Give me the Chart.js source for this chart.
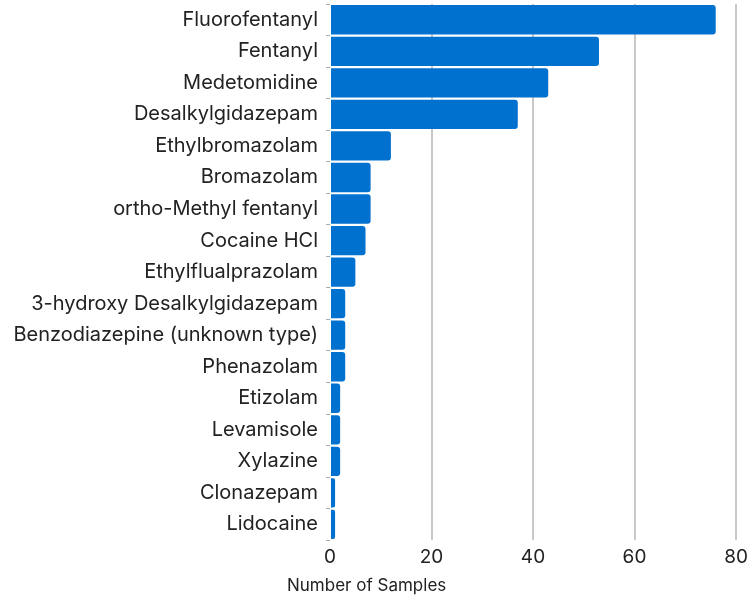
<!DOCTYPE html>
<html>
<head>
<meta charset="utf-8">
<script src="https://cdn.jsdelivr.net/npm/chart.js@4"></script>
<style>
  html, body { margin: 0; padding: 0; background: #fff; }
  #wrap { width: 751px; height: 600px; }
</style>
</head>
<body>
<div id="wrap"><canvas id="chart"></canvas></div>
<script>
const substances = [
  "Fluorofentanyl", "Fentanyl", "Medetomidine", "Desalkylgidazepam",
  "Ethylbromazolam", "Bromazolam", "ortho-Methyl fentanyl", "Cocaine HCl",
  "Ethylflualprazolam", "3-hydroxy Desalkylgidazepam",
  "Benzodiazepine (unknown type)", "Phenazolam", "Etizolam", "Levamisole",
  "Xylazine", "Clonazepam", "Lidocaine"
];
const sampleCounts = [76, 53, 43, 37, 12, 8, 8, 7, 5, 3, 3, 3, 2, 2, 2, 1, 1];
const xTicks = [0, 20, 40, 60, 80];
const xAxisTitle = "Number of Samples";

const fontFamily = "Inter, 'DejaVu Sans', sans-serif";

// axis title sits left of the plot area, so draw it by hand
const axisTitlePlugin = {
  id: "axisTitle",
  afterDraw(chart) {
    const ctx = chart.ctx;
    ctx.save();
    ctx.font = "17px " + fontFamily;
    ctx.fillStyle = "#222";
    ctx.textAlign = "left";
    ctx.textBaseline = "middle";
    ctx.fillText(xAxisTitle, chart.chartArea.left - 43, 586);
    ctx.restore();
  }
};

new Chart(document.getElementById("chart"), {
  type: "bar",
  data: {
    labels: substances,
    datasets: [{
      data: sampleCounts,
      backgroundColor: "#0071ce",
      borderRadius: { topRight: 3, bottomRight: 3, topLeft: 0, bottomLeft: 0 },
      borderSkipped: false,
      barPercentage: 0.93,
      categoryPercentage: 1
    }]
  },
  plugins: [axisTitlePlugin],
  options: {
    indexAxis: "y",
    responsive: true,
    maintainAspectRatio: false,
    animation: false,
    layout: { padding: { top: 4, right: 15, bottom: 25, left: 0 } },
    plugins: {
      legend: { display: false },
      tooltip: { enabled: false }
    },
    scales: {
      x: {
        min: 0,
        max: 80,
        afterBuildTicks: function (axis) {
          axis.ticks = xTicks.map(v => ({ value: v }));
        },
        afterFit: function (axis) {
          axis.paddingLeft = 0;
          axis.paddingRight = 0;
        },
        grid: {
          color: function (ctx) { return ctx.tick && ctx.tick.value === 0 ? "rgba(0,0,0,0)" : "#c8c8c8"; },
          lineWidth: 2,
          drawTicks: false
        },
        border: { display: false },
        ticks: {
          color: "#222",
          padding: 6,
          font: { family: fontFamily, size: 19 }
        }
      },
      y: {
        afterFit: function (axis) {
          axis.width = 330;
          axis.paddingTop = 0;
          axis.paddingBottom = 0;
        },
        grid: {
          display: true,
          drawOnChartArea: false,
          drawTicks: true,
          tickLength: 4,
          color: "#aaa",
          offset: true
        },
        border: { display: false },
        ticks: {
          color: "#222",
          padding: 8,
          autoSkip: false,
          font: { family: fontFamily, size: 20 }
        }
      }
    }
  }
});
</script>
</body>
</html>
